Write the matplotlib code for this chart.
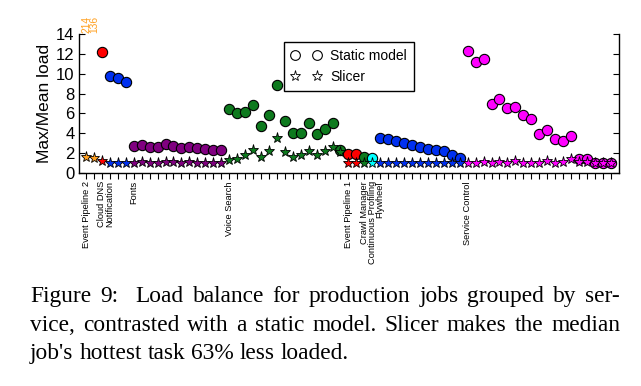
import matplotlib
matplotlib.use("Agg")
import matplotlib.pyplot as plt
from matplotlib.lines import Line2D
import numpy as np

plt.rcParams["font.family"] = "Liberation Sans"

# ===============================
# DATA
# ===============================

services = ["Event Pipeline 2", "Cloud DNS", "Notification", "Fonts", "Voice Search",
            "Event Pipeline 1", "Crawl Manager", "Continuous Profiling", "Flywheel",
            "Service Control"]
jobs_per_service = [2, 1, 3, 12, 15, 2, 1, 1, 11, 19]
service_colors = ["#ffa020", "#ff0000", "#0030f0", "#800080", "#0e7a1e",
                  "#ff0000", "#0e7a1e", "#00ffff", "#0030f0", "#ff00ff"]

# max/mean load per job, static model
static_model = [
    214, 136,
    12.2,
    9.8, 9.6, 9.2,
    2.75, 2.77, 2.65, 2.65, 2.9, 2.75, 2.5, 2.57, 2.45, 2.35, 2.25, 2.25,
    6.46, 6.05, 6.19, 6.87, 4.77, 5.88, 8.9, 5.2, 4.02, 4.02, 5.0, 3.92, 4.39, 5.0, 2.33,
    1.89, 1.85,
    1.62,
    1.52,
    3.5, 3.4, 3.25, 3.0, 2.8, 2.55, 2.35, 2.25, 2.2, 1.8, 1.5,
    12.34, 11.2, 11.47, 6.95, 7.45, 6.54, 6.61, 5.87, 5.4, 3.91, 4.32, 3.44, 3.24, 3.68,
    1.35, 1.35, 1.0, 1.0, 1.0,
]

# max/mean load per job, Slicer
slicer = [
    1.62, 1.52,
    1.15,
    1.0, 1.0, 1.0,
    1.0, 1.05, 1.0, 1.0, 1.1, 1.05, 1.0, 1.05, 1.0, 1.0, 1.0, 1.0,
    1.27, 1.35, 1.79, 2.3, 1.6, 2.23, 3.5, 2.05, 1.62, 1.75, 2.23, 1.75, 2.23, 2.55, 2.05,
    1.0, 1.0,
    1.0,
    1.0,
    1.0, 1.0, 1.0, 1.0, 1.0, 1.0, 1.0, 1.0, 1.0, 1.0, 1.0,
    1.0, 1.0, 1.1, 1.0, 1.1, 1.0, 1.15, 1.0, 1.0, 1.0, 1.18, 1.0, 1.05, 1.35,
    1.1, 1.1, 1.0, 1.0, 1.0,
]

caption = [
    "Figure 9:  Load balance for production jobs grouped by ser-",
    "vice, contrasted with a static model. Slicer makes the median",
    "job's hottest task 63% less loaded.",
]

# ===============================
# PLOT
# ===============================

fig = plt.figure(figsize=(6.41, 3.86), dpi=100)
ax = fig.add_axes([0.1228, 0.5526, 0.843, 0.3584])

x = np.arange(len(static_model))
starts = np.concatenate([[0], np.cumsum(jobs_per_service)[:-1]])

# circles first, stars on top
for s, n, c in zip(starts, jobs_per_service, service_colors):
    ax.plot(x[s:s + n], static_model[s:s + n], "o", ms=7.4,
            mfc=c, mec="black", mew=0.8, zorder=3)
for s, n, c in zip(starts, jobs_per_service, service_colors):
    ax.plot(x[s:s + n], slicer[s:s + n], "*", ms=8,
            mfc=c, mec="black", mew=0.6, zorder=4)

# off-scale values
for i, v in enumerate(static_model):
    if v > 14:
        ax.text(i, 14.15, f"{v:g}", rotation=90, color="#ffa020",
                fontsize=7.4, ha="center", va="bottom")

ax.set_xlim(-0.92, 67.04)
ax.set_ylim(0, 14)
ax.set_yticks(range(0, 15, 2))

tick_labels = [""] * len(static_model)
for s, name in zip(starts, services):
    tick_labels[s] = name
ax.set_xticks(x)
ax.set_xticklabels(tick_labels, rotation=90, fontsize=6.7, va="top")

ax.set_ylabel("Max/Mean load", fontsize=12.5, labelpad=3)

ax.spines["top"].set_visible(False)
for sp in ["left", "right", "bottom"]:
    ax.spines[sp].set_linewidth(1.0)

ax.tick_params(axis="x", direction="out", length=4, width=0.8, pad=2)
ax.tick_params(axis="y", direction="in", length=4, width=0.8, right=True,
               labelsize=12, pad=3)

handles = [
    Line2D([], [], marker="o", ls="none", mfc="white", mec="black", ms=7, mew=0.8),
    Line2D([], [], marker="*", ls="none", mfc="white", mec="black", ms=8, mew=0.6),
]
leg = ax.legend(handles, ["Static model", "Slicer"], numpoints=2,
                loc="upper left", bbox_to_anchor=(0.38, 0.944),
                fontsize=10, fancybox=False, framealpha=1,
                edgecolor="black", borderaxespad=0, handletextpad=0.6,
                handlelength=2.2, borderpad=0.5, labelspacing=0.5)
leg.get_frame().set_linewidth(1.0)

# caption, justified like the paper
fig.canvas.draw()
renderer = fig.canvas.get_renderer()
W = fig.bbox.width
H = fig.bbox.height
x0, x1 = 30, 620
ys = [302, 331, 359]
cap_fs = 16.8
for k, (line, y) in enumerate(zip(caption, ys)):
    words = line.split()
    texts = [fig.text(0, 1 - y / H, w, fontsize=cap_fs, family="Liberation Serif",
                      va="baseline", ha="left") for w in words]
    widths = [t.get_window_extent(renderer).width for t in texts]
    # wider gap after "Figure 9:"
    weights = [2.0 if w.endswith(":") else 1.0 for w in words[:-1]]
    if k < len(caption) - 1:
        gap = (x1 - x0 - sum(widths)) / sum(weights)
    else:
        sp = fig.text(0, 0, "a a", fontsize=cap_fs, family="Liberation Serif")
        sp2 = fig.text(0, 0, "aa", fontsize=cap_fs, family="Liberation Serif")
        gap = sp.get_window_extent(renderer).width - sp2.get_window_extent(renderer).width
        sp.remove()
        sp2.remove()
    pos = x0
    for j, (t, w) in enumerate(zip(texts, widths)):
        t.set_x(pos / W)
        if j < len(weights):
            pos += w + gap * weights[j]

fig.savefig("out.png", dpi=100)
